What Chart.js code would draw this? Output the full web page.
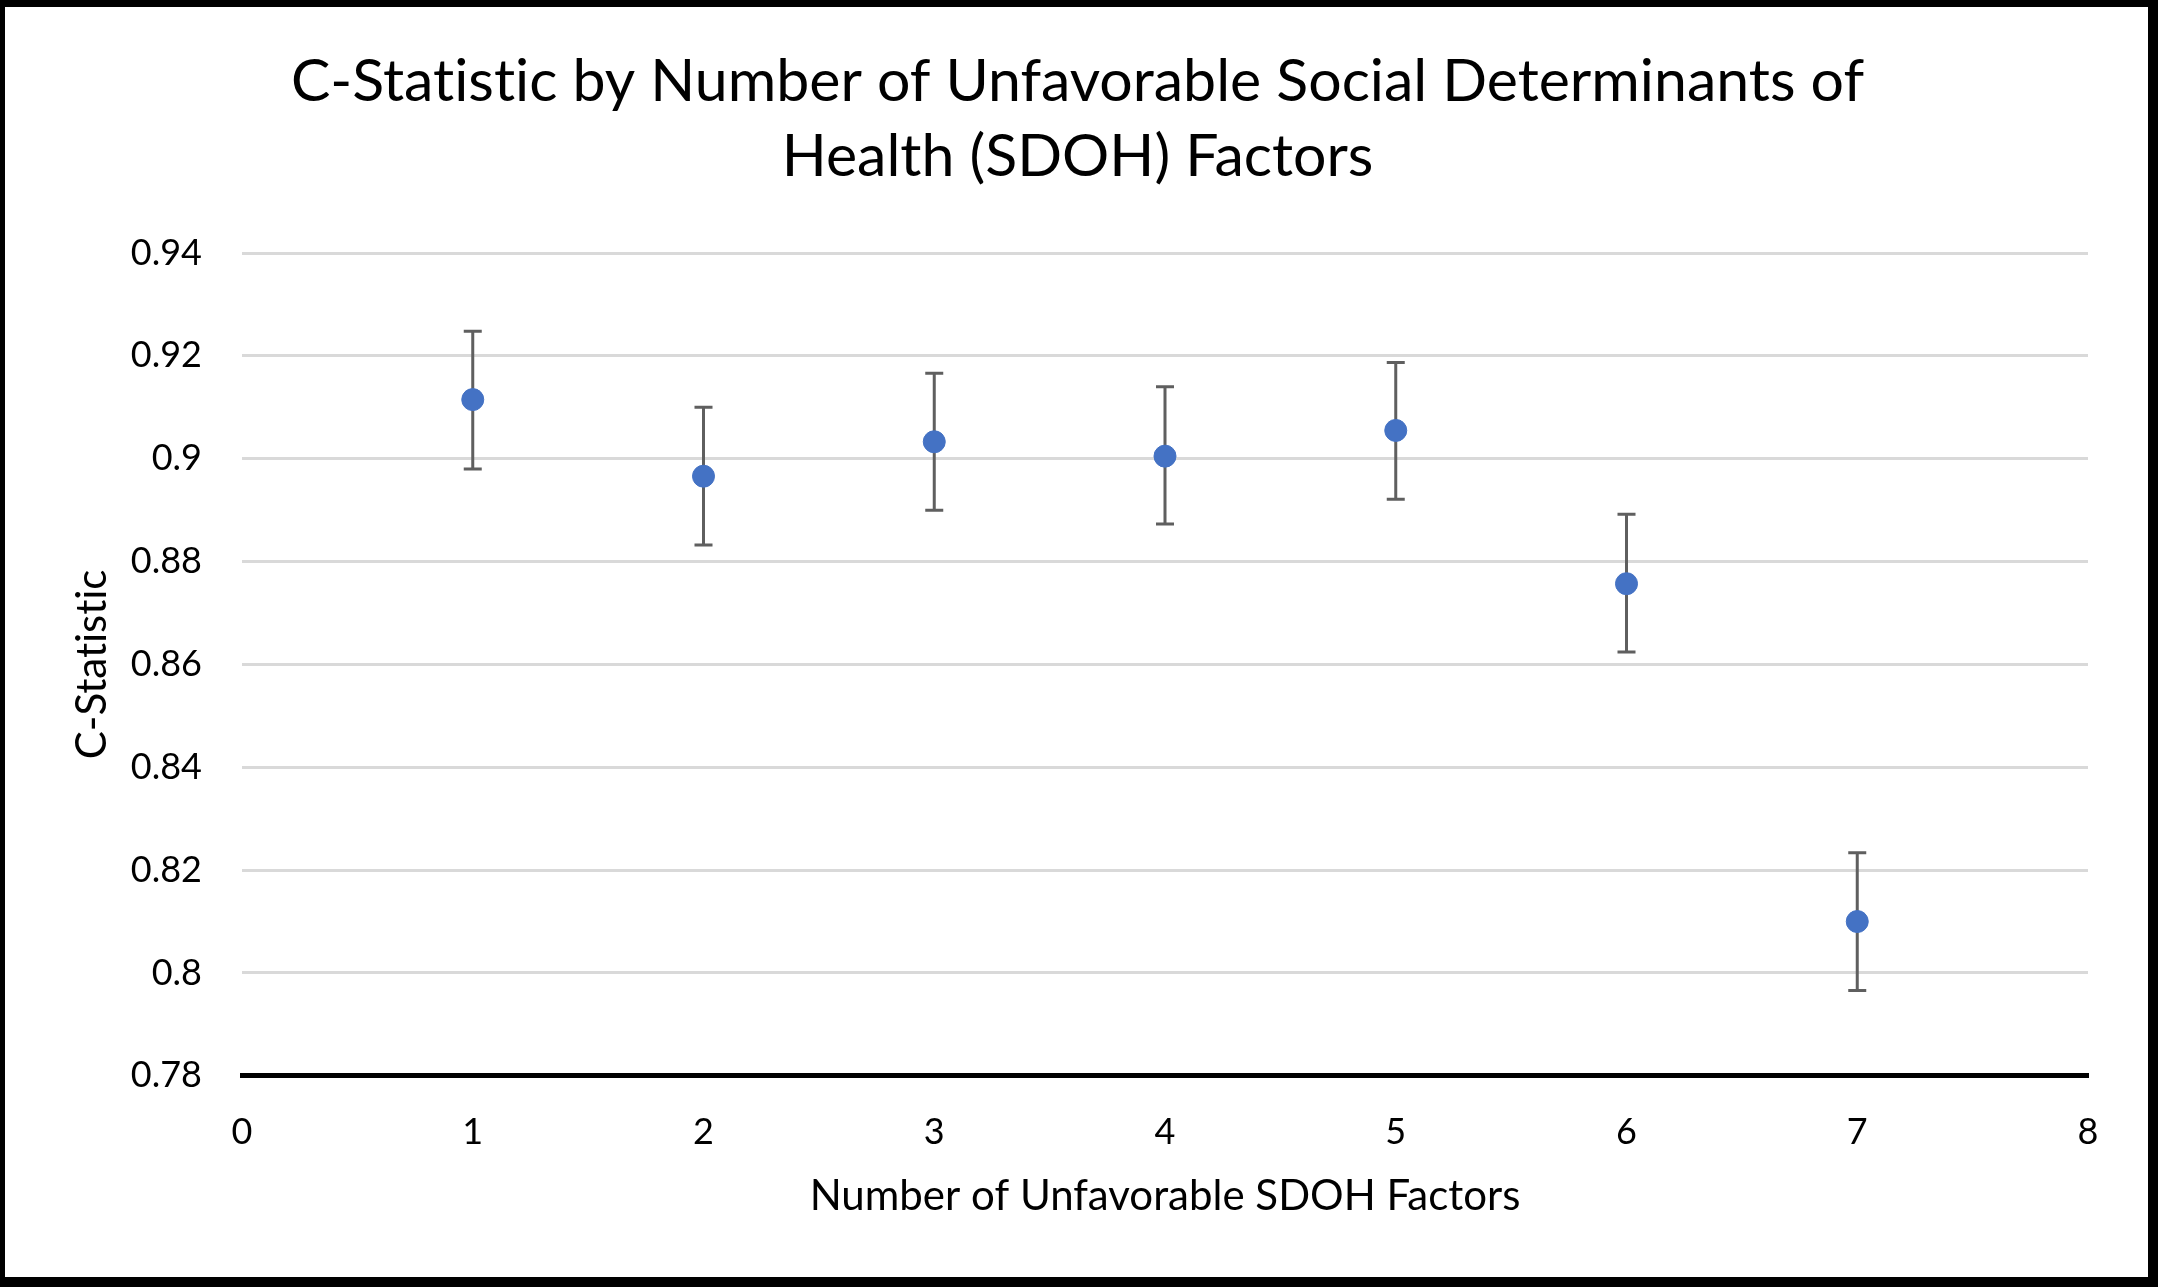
<!DOCTYPE html>
<html>
<head>
<meta charset="utf-8">
<script src="https://cdn.jsdelivr.net/npm/chart.js@4"></script>
<style>
  html, body { margin: 0; padding: 0; background: #fff; }
  #wrap { position: relative; width: 2158px; height: 1287px; }
  #wrap canvas { position: absolute; left: 0; top: 0; }
</style>
</head>
<body>
<div id="wrap"><canvas id="chart" width="2158" height="1287"></canvas></div>
<script>
/* C-statistic with 95% CI by number of unfavorable SDOH factors */
const factors = [1, 2, 3, 4, 5, 6, 7];
const cStat = [0.9115, 0.8966, 0.9033, 0.9005, 0.9055, 0.8757, 0.8100];
const ciLow = [0.8980, 0.8832, 0.8900, 0.8873, 0.8921, 0.8624, 0.7966];
const ciHigh = [0.9248, 0.9100, 0.9166, 0.9140, 0.9187, 0.8892, 0.8234];
const yTickLabels = ['0.78', '0.8', '0.82', '0.84', '0.86', '0.88', '0.9', '0.92', '0.94'];
const xTickLabels = ['0', '1', '2', '3', '4', '5', '6', '7', '8'];

const FONT = 'Lato, "Open Sans", sans-serif';

// white background + black frame round the picture
const frame = {
  id: 'frame',
  beforeDraw(chart) {
    const c = chart.ctx;
    c.textRendering = 'optimizeSpeed'; // no "ti" ligature, like the original
    c.save();
    c.fillStyle = '#fff';
    c.fillRect(0, 0, chart.width, chart.height);
    c.restore();
  },
  afterDraw(chart) {
    const c = chart.ctx, w = chart.width, h = chart.height;
    c.save();
    c.fillStyle = '#000';
    c.fillRect(0, 0, w, 7);
    c.fillRect(0, h - 10, w, 10);
    c.fillRect(0, 0, 5, h);
    c.fillRect(w - 10, 0, 10, h);
    c.restore();
  }
};

// vertical error bars with caps, read from ciLow / ciHigh
const errorBars = {
  id: 'errorBars',
  beforeDatasetsDraw(chart) {
    const c = chart.ctx, xs = chart.scales.x, ys = chart.scales.y;
    c.save();
    c.strokeStyle = '#5f5f5f';
    c.lineWidth = 3;
    factors.forEach((f, i) => {
      const x = xs.getPixelForValue(f);
      const y1 = ys.getPixelForValue(ciLow[i]);
      const y2 = ys.getPixelForValue(ciHigh[i]);
      c.beginPath();
      c.moveTo(x, y1); c.lineTo(x, y2);
      c.moveTo(x - 9, y1); c.lineTo(x + 9, y1);
      c.moveTo(x - 9, y2); c.lineTo(x + 9, y2);
      c.stroke();
    });
    c.restore();
  }
};

new Chart(document.getElementById('chart'), {
  type: 'scatter',
  data: {
    datasets: [{
      label: 'C-Statistic',
      data: factors.map((f, i) => ({ x: f, y: cStat[i] })),
      backgroundColor: '#4472c4',
      borderColor: '#4472c4',
      pointRadius: 11,
      pointHoverRadius: 11,
    }],
  },
  options: {
    responsive: false,
    animation: false,
    devicePixelRatio: 1,
    layout: { padding: { left: 67, right: 70, top: 44, bottom: 70 } },
    plugins: {
      legend: { display: false },
      tooltip: { enabled: false },
      title: {
        display: true,
        text: ['C-Statistic by Number of Unfavorable Social Determinants of', 'Health (SDOH) Factors'],
        color: '#000',
        font: { family: FONT, size: 59, weight: 'normal', lineHeight: 1.28 },
        padding: { top: 0, bottom: 58 },
      },
    },
    scales: {
      x: {
        type: 'linear', min: 0, max: 8,
        grid: { display: false, drawTicks: false },
        border: { display: true, color: '#000', width: 5 },
        ticks: {
          stepSize: 1, color: '#000', padding: 35,
          font: { family: FONT, size: 36 },
          callback: (v) => xTickLabels[v] ?? '',
        },
        title: {
          display: true, text: 'Number of Unfavorable SDOH Factors', color: '#000',
          font: { family: FONT, size: 42, lineHeight: 1 }, padding: { top: -14, bottom: 0 },
        },
      },
      y: {
        min: 0.78, max: 0.94,
        afterFit: (s) => { s.width = 175; },
        grid: { color: '#d9d9d9', lineWidth: 3, drawTicks: false },
        border: { display: false },
        ticks: {
          stepSize: 0.02, color: '#000', padding: 40,
          font: { family: FONT, size: 36 },
          callback: (v) => yTickLabels[Math.round((v - 0.78) / 0.02)] ?? '',
        },
        title: {
          display: true, text: 'C-Statistic', color: '#000',
          font: { family: FONT, size: 42 }, padding: { top: 0, bottom: 0 },
        },
      },
    },
  },
  plugins: [frame, errorBars],
});
</script>
</body>
</html>
